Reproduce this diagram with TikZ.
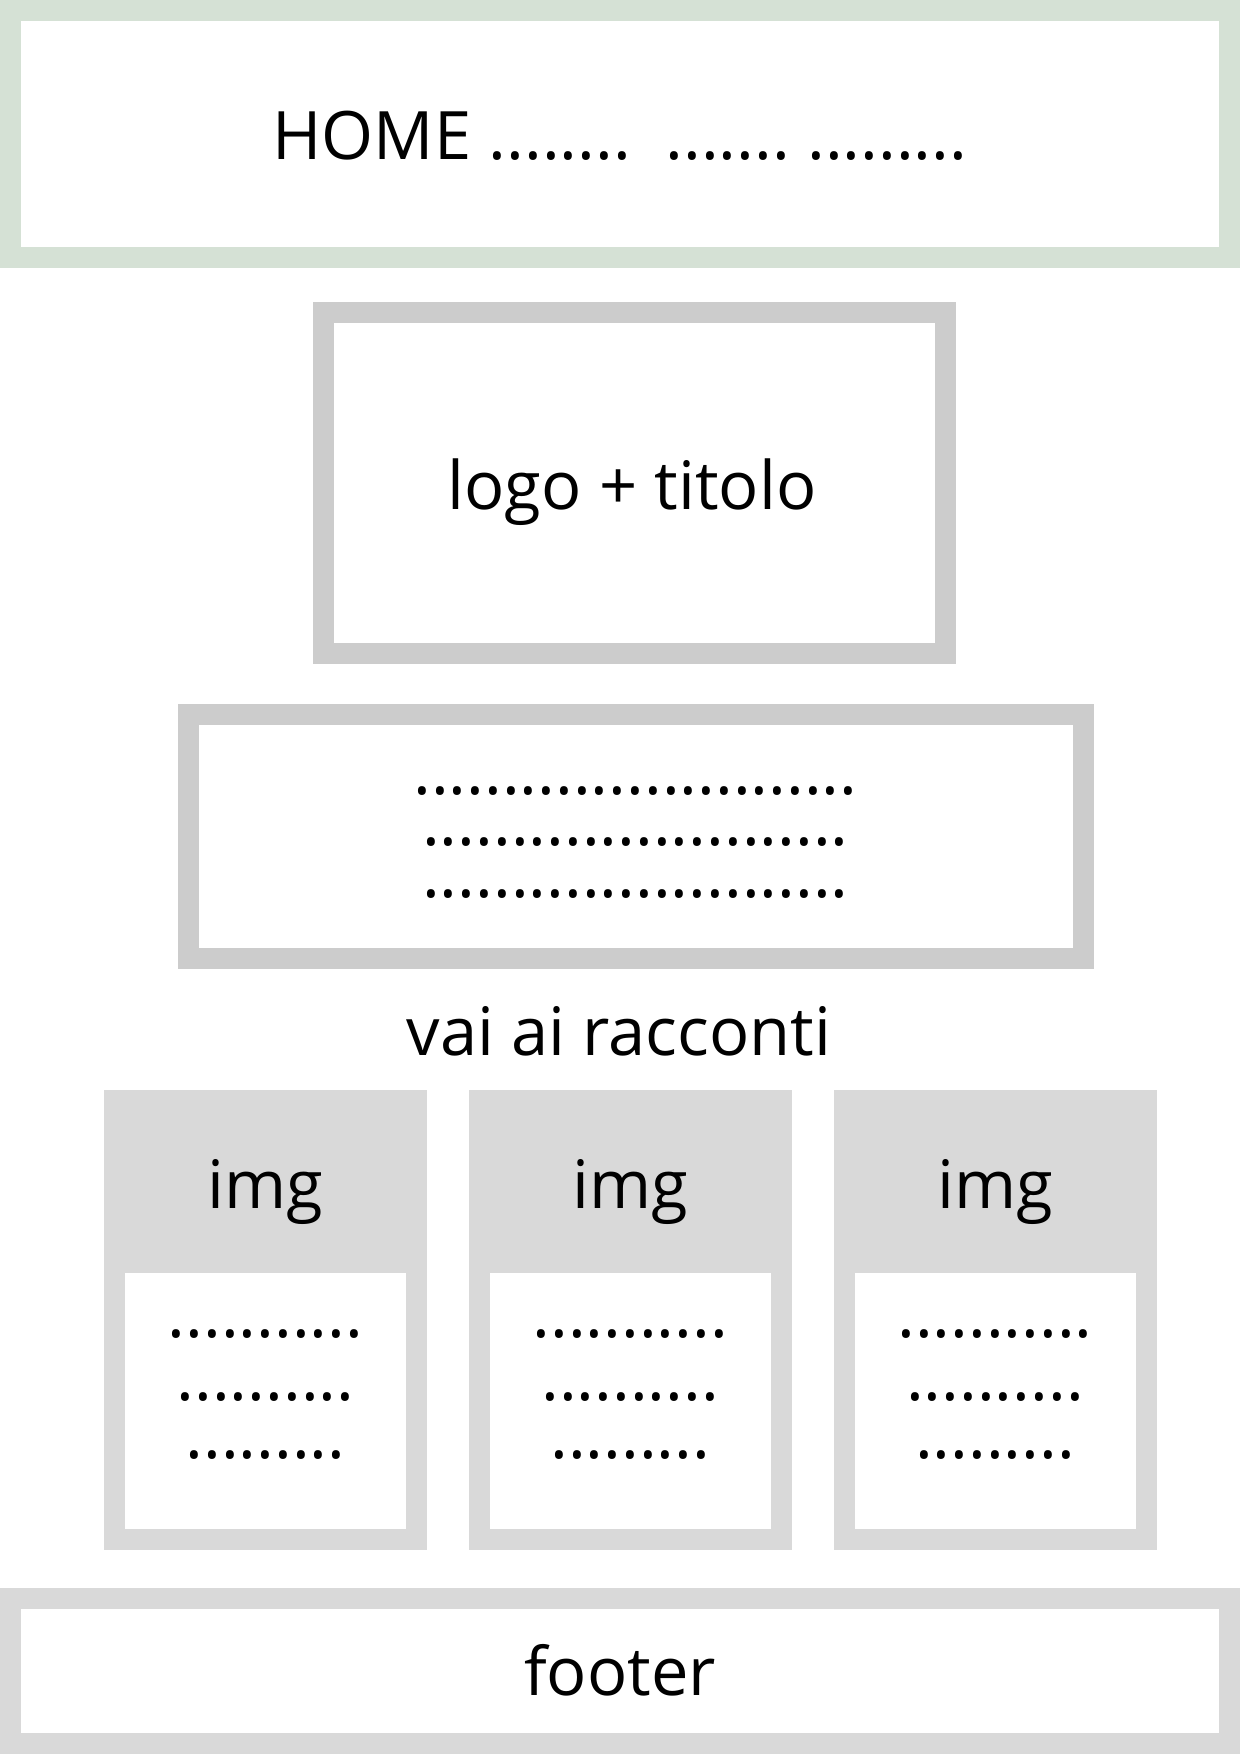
\documentclass[tikz,border=0pt]{standalone}
\usepackage{fontspec}
\setmainfont{Open Sans}
\usepackage{tikz}
\usepackage{xcolor}

\definecolor{navgreen}{RGB}{213,225,213}
\definecolor{boxgray}{RGB}{204,204,204}
\definecolor{cardgray}{RGB}{217,217,217}

\frenchspacing

\begin{document}
\begin{tikzpicture}[
        x=1pt, y=-1pt,
        declare function={
            W = 1240;
            H = 1754;
            ca = 265.5;
            cb = 630.25;
            cc = 995;
        },
        frame/.style={draw=#1, line width=21pt, inner sep=0pt, outer sep=0pt},
        header/.style={fill=cardgray, inner sep=0pt, minimum width=323pt, minimum height=183pt},
        card/.style={frame=cardgray, minimum width=302pt, minimum height=438.5pt},
        txt/.style={anchor=base, inner sep=0pt, font=\fontsize{66.8}{79}\selectfont}
    ]

        \useasboundingbox (0, 0) rectangle (W, H);

        \node (navbar) [frame=navgreen, minimum width=1219pt, minimum height=247pt] at (W/2, 134) {};
        \node (home) [txt] at (W/2, 159) {HOME ........\ \ ....... .........};

        \node (logobox) [frame=boxgray, minimum width=622pt, minimum height=341pt] at (634.5, 483) {};
        \node (logo) [txt] at (632, 509) {logo + titolo};

        \node (introbox) [frame=boxgray, minimum width=895pt, minimum height=244pt] at (635.5, 836.5) {};
        \node (introa) [txt] at (635.5, 794) {.........................};
        \node (introb) [txt] at (635.5, 845) {........................};
        \node (introc) [txt] at (635.5, 897) {........................};

        \node (goto) [txt] at (619, 1055) {vai ai racconti};

        \node (heada) [header] at (ca, 1181.5) {};
        \node (carda) [card] at (ca, 1319.75) {};
        \node (imga) [txt] at (ca, 1208) {img};
        \node (rowaa) [txt] at (ca, 1337.5) {...........};
        \node (rowab) [txt] at (ca, 1400.5) {..........};
        \node (rowac) [txt] at (ca, 1458) {.........};

        \node (headb) [header] at (cb, 1181.5) {};
        \node (cardb) [card] at (cb, 1319.75) {};
        \node (imgb) [txt] at (cb, 1208) {img};
        \node (rowba) [txt] at (cb, 1337.5) {...........};
        \node (rowbb) [txt] at (cb, 1400.5) {..........};
        \node (rowbc) [txt] at (cb, 1458) {.........};

        \node (headc) [header] at (cc, 1181.5) {};
        \node (cardc) [card] at (cc, 1319.75) {};
        \node (imgc) [txt] at (cc, 1208) {img};
        \node (rowca) [txt] at (cc, 1337.5) {...........};
        \node (rowcb) [txt] at (cc, 1400.5) {..........};
        \node (rowcc) [txt] at (cc, 1458) {.........};

        \node (footbox) [frame=cardgray, minimum width=1219pt, minimum height=145.5pt] at (W/2, 1670.75) {};
        \node (foot) [txt] at (W/2, 1695.5) {footer};
    \end{tikzpicture}
\end{document}
